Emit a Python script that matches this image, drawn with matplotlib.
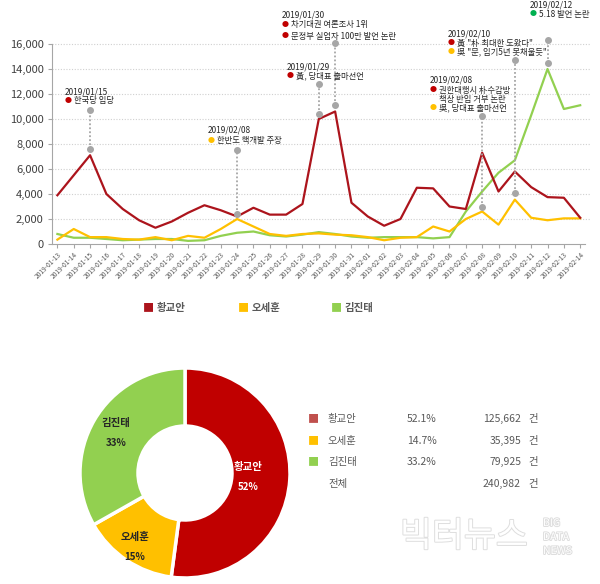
import matplotlib
matplotlib.use("Agg")
import matplotlib.pyplot as plt
import matplotlib.patheffects as pe
import numpy as np
import pandas as pd

plt.rcParams["font.family"] = ["Noto Sans CJK KR", "DejaVu Sans"]

W, H = 600, 584

dates = pd.date_range("2019-01-13", "2019-02-14").strftime("%Y-%m-%d").tolist()
hwang = [3900, 5500, 7100, 4000, 2800, 1900, 1300, 1800, 2500, 3100, 2700,
         2200, 2900, 2350, 2350, 3200, 10000, 10600, 3300, 2200, 1460, 2000,
         4500, 4450, 3000, 2800, 7300, 4200, 5800, 4550, 3750, 3700, 2100]
oh = [350, 1200, 550, 550, 400, 350, 550, 300, 650, 500, 1200,
      2000, 1400, 800, 650, 800, 850, 750, 700, 550, 300, 500,
      550, 1400, 1000, 2000, 2600, 1550, 3550, 2100, 1900, 2050, 2050]
kim = [800, 500, 500, 400, 300, 350, 400, 400, 250, 300, 650,
       900, 1000, 700, 600, 750, 950, 800, 600, 500, 550, 550,
       550, 450, 550, 2600, 4200, 5700, 6700, 10300, 14000, 10800, 11100]

names = ["황교안", "오세훈", "김진태"]
line_colors = ["#AC141C", "#FFC000", "#92D050"]
pie_colors = ["#C00000", "#FFC000", "#92D050"]
table_colors = ["#C0504D", "#FFC000", "#92D050"]
share_pct = [52.1, 14.7, 33.2]
counts = [125662, 35395, 79925]
total = 240982

# event markers: date index, top dot, bottom dot
event_idx = [2, 11, 16, 17, 26, 28, 30]
event_top = [10750, 7500, 12800, 16100, 10250, 14700, 16300]
event_bottom = [7600, 2400, 10400, 11100, 3000, 4100, 14500]

# annotation blocks: (x px, date y px, date text, [(dot color or None, text, y px)])
notes = [
    (65, 92, "2019/01/15", [("#C00000", "한국당 입당", 101)]),
    (208, 130, "2019/02/08", [("#FFC000", "한반도 핵개발 주장", 141)]),
    (287, 67, "2019/01/29", [("#C00000", "黃, 당대표 출마선언", 76)]),
    (282, 15, "2019/01/30", [("#C00000", "차기대권 여론조사 1위", 25),
                             ("#C00000", "문정부 실업자 100만 발언 논란", 36)]),
    (430, 80, "2019/02/08", [("#C00000", "권한대행시 朴수감방", 90),
                             (None, "책상 반입 거부 논란", 99),
                             ("#FFC000", "吳, 당대표 출마선언", 108)]),
    (448, 34, "2019/02/10", [("#C00000", "黃 \"朴 최대한 도왔다\"", 43),
                             ("#FFC000", "吳 \"문, 임기5년 못채울듯\"", 52)]),
    (530, 5, "2019/02/12", [("#00B050", "5.18 발언 논란", 14)]),
]


def fx(x):
    return x / W


def fy(y):
    return 1 - y / H


fig = plt.figure(figsize=(W / 100, H / 100), dpi=100)
txt = "#404040"

# ---------- line chart ----------
ax = fig.add_axes([fx(52), fy(244), (590 - 52) / W, 244 / H])
x = np.arange(len(dates))
for vals, c in zip([kim, oh, hwang], [line_colors[2], line_colors[1], line_colors[0]]):
    ax.plot(x, vals, color=c, lw=1.6, zorder=3)

for i, t, b in zip(event_idx, event_top, event_bottom):
    ax.plot([i, i], [b, t], color="#A6A6A6", lw=1.3, ls=(0, (1, 1.2)), zorder=4, clip_on=False)
    ax.plot([i, i], [b, t], "o", color="#A6A6A6", ms=4, zorder=5, clip_on=False)

ax.set_xlim(-0.33, 32.6)
ax.set_ylim(0, 19520)
ax.set_yticks(range(0, 16001, 2000))
ax.set_yticklabels(["{:,}".format(v) for v in range(0, 16001, 2000)], fontsize=8, color=txt)
ax.set_xticks(x)
ax.set_xticklabels(dates, rotation=45, ha="right", rotation_mode="anchor", fontsize=4.8, color="#595959")
for v in range(2000, 16001, 2000):
    ax.axhline(v, color="#D0D0D0", lw=0.8, ls=(0, (1, 1.5)), zorder=1)
for s in ["top", "right"]:
    ax.spines[s].set_visible(False)
ax.spines["left"].set_bounds(0, 16000)
ax.spines["bottom"].set_bounds(-0.33, 32.3)
ax.spines["left"].set_color("#A6A6A6")
ax.spines["bottom"].set_color("#A6A6A6")
ax.tick_params(axis="x", length=3, color="#A6A6A6", pad=2)
ax.tick_params(axis="y", length=3, color="#A6A6A6", pad=3)
ax.patch.set_alpha(0)

for nx, dy, dtext, items in notes:
    fig.text(fx(nx), fy(dy), dtext, fontsize=6, color="#262626", va="center", ha="left")
    for c, t, iy in items:
        if c is not None:
            fig.text(fx(nx + 3), fy(iy), "●", fontsize=5, color=c, va="center", ha="center")
        fig.text(fx(nx + 9), fy(iy), t, fontsize=6, color="#262626", va="center", ha="left")

# legend
for n, c, lx in zip(names, line_colors, [148, 243, 336]):
    fig.text(fx(lx), fy(308), "■", fontsize=8, color=c, va="center", ha="center")
    fig.text(fx(lx + 9), fy(308), n, fontsize=7.5, color="#595959", va="center",
             ha="left", fontweight="bold")

# ---------- donut ----------
ax2 = fig.add_axes([fx(185 - 115), fy(473 + 115), 230 / W, 230 / H])
R = 1.05
wedges, _ = ax2.pie(share_pct, colors=pie_colors, startangle=90, counterclock=False,
                    radius=R, wedgeprops=dict(width=0.58, edgecolor="white", linewidth=2.5))
ax2.set_xlim(-1.15, 1.15)
ax2.set_ylim(-1.15, 1.15)
ax2.set_aspect("equal")
label_r = [0.6, 0.85, 0.76]
label_col = ["white", "#262626", "#262626"]
for w, n, p, r, lc in zip(wedges, names, share_pct, label_r, label_col):
    ang = np.deg2rad((w.theta1 + w.theta2) / 2)
    cx, cy = r * R * np.cos(ang), r * R * np.sin(ang)
    ax2.text(cx, cy + 0.1, n, ha="center", va="center", fontsize=7.5, color=lc, fontweight="bold")
    ax2.text(cx, cy - 0.1, "{}%".format(round(p)), ha="center", va="center", fontsize=7,
             color=lc, fontweight="bold")

# ---------- table ----------
rows_y = [419, 441, 462, 484]
for n, c, p, cnt, ry in zip(names, table_colors, share_pct, counts, rows_y):
    fig.text(fx(313), fy(ry), "■", fontsize=8, color=c, va="center", ha="center")
    fig.text(fx(328), fy(ry), n, fontsize=7.5, color="#595959", va="center", ha="left")
    fig.text(fx(407), fy(ry), "{}%".format(p), fontsize=7.5, color="#595959", va="center", ha="left")
    fig.text(fx(521), fy(ry), "{:,}".format(cnt), fontsize=7.5, color="#595959", va="center", ha="right")
    fig.text(fx(528), fy(ry), "건", fontsize=7.5, color="#595959", va="center", ha="left")
fig.text(fx(328), fy(rows_y[3]), "전체", fontsize=7.5, color="#595959", va="center", ha="left")
fig.text(fx(521), fy(rows_y[3]), "{:,}".format(total), fontsize=7.5, color="#595959", va="center", ha="right")
fig.text(fx(528), fy(rows_y[3]), "건", fontsize=7.5, color="#595959", va="center", ha="left")

# watermark
outline = [pe.Stroke(linewidth=1.4, foreground="#DEDEDE"), pe.Normal()]
fig.text(fx(400), fy(537), "빅터뉴스", fontsize=25, color="white", va="center", ha="left",
         path_effects=outline)
for t, wy in zip(["BIG", "DATA", "NEWS"], [523, 537, 551]):
    fig.text(fx(543), fy(wy), t, fontsize=7.5, color="white", va="center", ha="left",
             path_effects=outline)

fig.savefig("out.png", dpi=100)
